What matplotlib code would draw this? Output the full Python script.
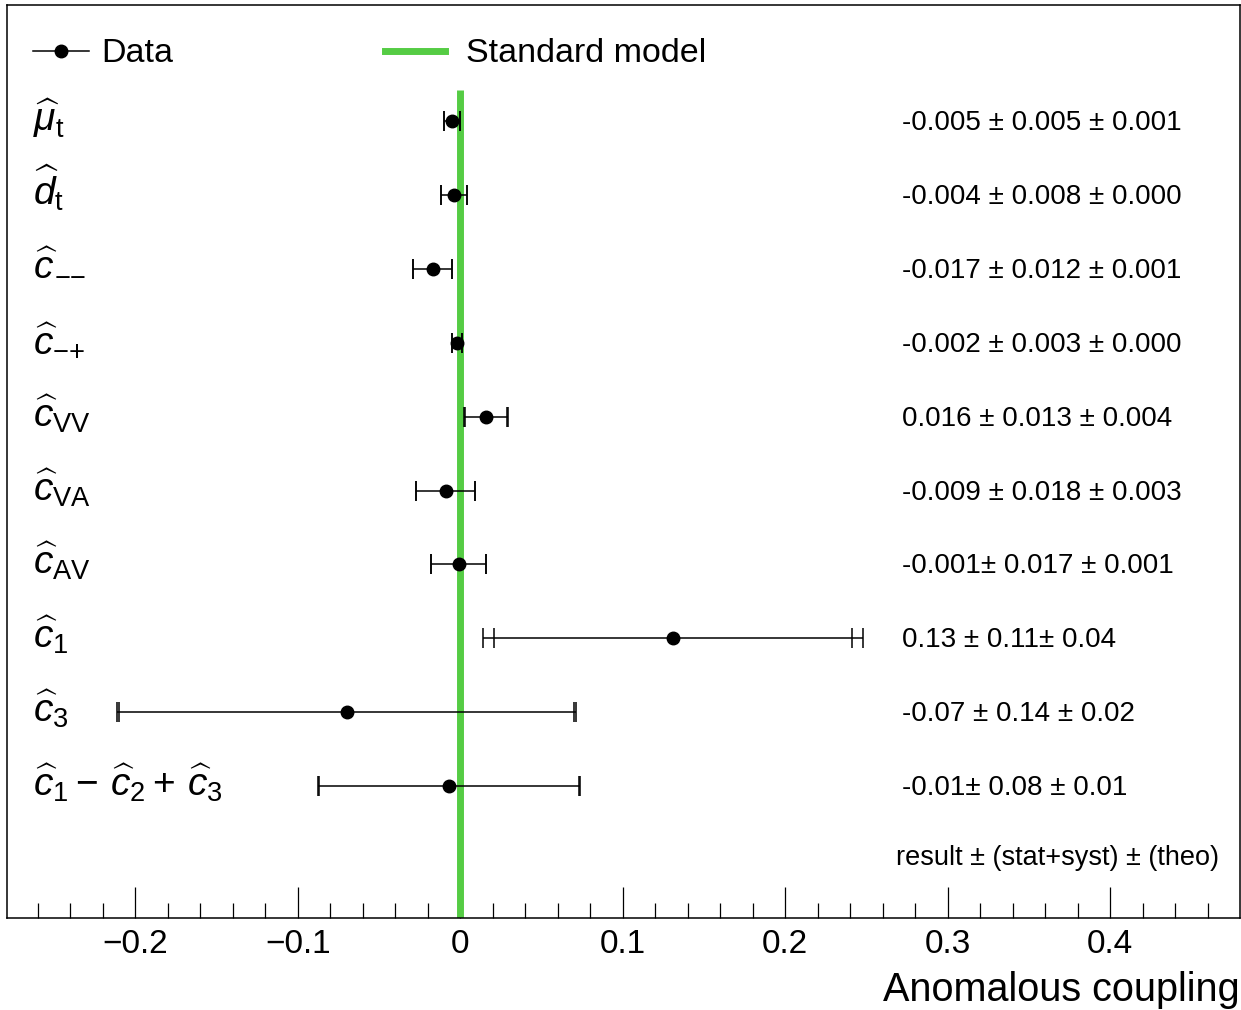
import numpy as np
import matplotlib
matplotlib.use('Agg')
import matplotlib.pyplot as plt
from matplotlib.lines import Line2D

plt.rcParams['font.family'] = ['Liberation Sans', 'DejaVu Sans']
plt.rcParams['mathtext.fontset'] = 'custom'
plt.rcParams['mathtext.rm'] = 'Liberation Sans'
plt.rcParams['mathtext.it'] = 'Liberation Sans:italic'
plt.rcParams['mathtext.bf'] = 'Liberation Sans:bold'

# coefficients, top to bottom
labels = [r'$\widehat{\mu}_{\mathrm{t}}$', r'$\widehat{d}_{\mathrm{t}}$',
          r'$\widehat{c}$', r'$\widehat{c}_{{-}{+}}$',
          r'$\widehat{c}_{\mathrm{VV}}$', r'$\widehat{c}_{\mathrm{VA}}$',
          r'$\widehat{c}_{\mathrm{AV}}$', r'$\widehat{c}_{1}$',
          r'$\widehat{c}_{3}$',
          r'$\widehat{c}_{1}-\,\widehat{c}_{2}+\,\widehat{c}_{3}$']
# subscript drawn as plain text (mathtext clips a subscript of only minus signs)
extra_sub = ['', '', '\u2212\u2212', '', '', '', '', '', '', '']
central = [-0.005, -0.004, -0.017, -0.002, 0.016, -0.009, -0.001, 0.131, -0.070, -0.007]
err_stat_syst = [0.005, 0.008, 0.012, 0.003, 0.013, 0.018, 0.017, 0.11, 0.14, 0.08]
err_theo = [0.001, 0.000, 0.001, 0.000, 0.004, 0.003, 0.001, 0.04, 0.02, 0.01]
value_text = ['-0.005 ± 0.005 ± 0.001', '-0.004 ± 0.008 ± 0.000',
              '-0.017 ± 0.012 ± 0.001', '-0.002 ± 0.003 ± 0.000',
              '0.016 ± 0.013 ± 0.004', '-0.009 ± 0.018 ± 0.003',
              '-0.001± 0.017 ± 0.001', '0.13 ± 0.11± 0.04',
              '-0.07 ± 0.14 ± 0.02', '-0.01± 0.08 ± 0.01']
sm_value = 0.0

n = len(labels)
y = np.arange(n)[::-1] + 1.0
central = np.array(central)
err_stat_syst = np.array(err_stat_syst)
err_tot = np.hypot(err_stat_syst, np.array(err_theo))

fig = plt.figure(figsize=(12.41, 10.10), dpi=100)
ax = fig.add_axes([7 / 1241, 92 / 1010, 1233 / 1241, 913 / 1010])
ax.set_xlim(-0.279, 0.48)
ax.set_ylim(-0.785, 11.57)

green = '#55cc44'
ax.plot([sm_value, sm_value], [-0.785, 10.42], color=green, lw=5, zorder=2,
        solid_capstyle='butt')

ax.errorbar(central, y, xerr=err_tot, fmt='o', color='black', ms=9,
            elinewidth=1.1, capsize=7.2, capthick=1.1, zorder=3)
ax.errorbar(central, y, xerr=err_stat_syst, fmt='none', ecolor='black',
            elinewidth=0, capsize=7.2, capthick=1.1, zorder=3)

for yi, lab, sub, txt in zip(y, labels, extra_sub, value_text):
    ax.annotate(lab, xy=(0, yi), xycoords=('axes fraction', 'data'),
                xytext=(18.5, -7), textcoords='offset points',
                fontsize=28, ha='left', va='baseline', annotation_clip=False)
    if sub:
        ax.annotate(sub, xy=(0, yi), xycoords=('axes fraction', 'data'),
                    xytext=(34, -12.5), textcoords='offset points',
                    fontsize=19.6, ha='left', va='baseline')
    ax.annotate(txt, xy=(0.726, yi), xycoords=('axes fraction', 'data'),
                xytext=(0, -1.5), textcoords='offset points',
                fontsize=20, ha='left', va='center')

ax.annotate('result ± (stat+syst) ± (theo)', xy=(0.721, 0.05),
            xycoords=('axes fraction', 'data'), xytext=(0, -1.5),
            textcoords='offset points', fontsize=19.5, ha='left', va='center')

leg1 = ax.legend([Line2D([], [], color='black', lw=1.1, marker='o', ms=9)], ['Data'],
                 frameon=False, fontsize=24.5, loc='center left',
                 bbox_to_anchor=(26 / 1233, 1 - 49 / 913), borderpad=0,
                 borderaxespad=0, handlelength=1.65, handletextpad=0.37)
ax.add_artist(leg1)
ax.legend([Line2D([], [], color=green, lw=5)], ['Standard model'],
          frameon=False, fontsize=24.5, loc='center left',
          bbox_to_anchor=(378 / 1233, 1 - 49 / 913), borderpad=0,
          borderaxespad=0, handlelength=1.75, handletextpad=0.62)

ax.set_yticks([])
ax.set_xticks([-0.2, -0.1, 0, 0.1, 0.2, 0.3, 0.4])
ax.set_xticklabels(['\u22120.2', '\u22120.1', '0', '0.1', '0.2', '0.3', '0.4'])
ax.set_xticks(np.arange(-0.26, 0.48, 0.02), minor=True)
ax.tick_params(axis='x', which='major', direction='in', length=22, width=0.9,
               labelsize=24, pad=8)
ax.tick_params(axis='x', which='minor', direction='in', length=11, width=0.9)
for s in ax.spines.values():
    s.set_linewidth(1.1)

fig.text(0.999, 1 - 990 / 1010, 'Anomalous coupling', fontsize=28.5,
         ha='right', va='center')

fig.savefig('out.png', dpi=100)
